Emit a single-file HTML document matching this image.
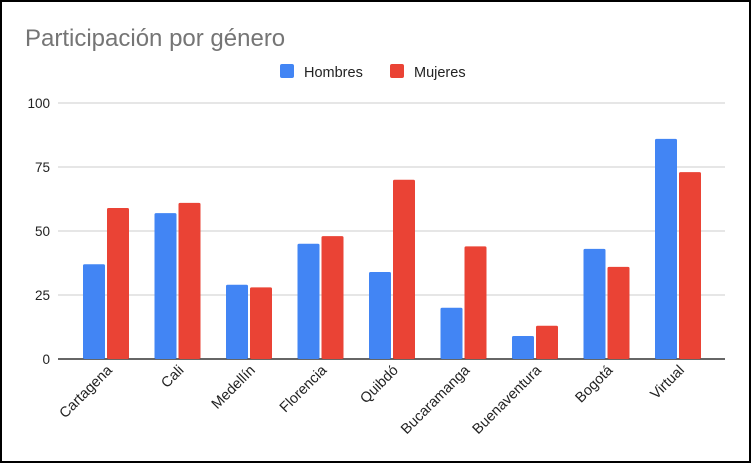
<!DOCTYPE html>
<html><head><meta charset="utf-8"><style>
body{margin:0;background:#fff}
#wrap{position:relative;width:751px;height:463px;box-sizing:border-box;border:2px solid #000;background:#fff;overflow:hidden}
svg{position:absolute;left:-2px;top:-2px}
text{font-family:"Liberation Sans",Arial,sans-serif}
</style></head><body>
<div id="wrap">
<svg id="chart" width="751" height="463">
<text x="25" y="46" font-size="24" fill="#757575">Participación por género</text>
<g>
<rect x="280" y="64" width="14" height="14" rx="2" fill="#4285f4"/>
<text x="304" y="77" font-size="14.5" fill="#222">Hombres</text>
<rect x="390" y="64" width="14" height="14" rx="2" fill="#ea4335"/>
<text x="414" y="77" font-size="14.5" fill="#222">Mujeres</text>
</g>
<g id="grid"></g><g id="bars"></g><g id="xlabels"></g>
</svg></div>
<script>
const categories=["Cartagena","Cali","Medellín","Florencia","Quibdó","Bucaramanga","Buenaventura","Bogotá","Virtual"];
const hombres=[37,57,29,45,34,20,9,43,86];
const mujeres=[59,61,28,48,70,44,13,36,73];
const yTicks=[0,25,50,75,100];
const NS="http://www.w3.org/2000/svg";
const y0=359,yTop=103,xL=58,xR=725;
const y=v=>y0-(v/100)*(y0-yTop);
const cx=i=>106+i*71.5;
function mk(t,a,p){const e=document.createElementNS(NS,t);for(const k in a)e.setAttribute(k,a[k]);p.appendChild(e);return e;}
const g=document.getElementById('grid');
yTicks.forEach(v=>{
 const l=mk('line',{x1:xL,x2:xR,y1:y(v),y2:y(v),stroke:v===0?'#333':'#ccc','stroke-width':v===0?1.5:1},g);
 
 
 const t=mk('text',{x:50,y:y(v)+5,'text-anchor':'end','font-size':13.5,fill:'#222'},g);
 t.textContent=v;
 
 
});
const b=document.getElementById('bars'),xl=document.getElementById('xlabels');
categories.forEach((c,i)=>{
 [[hombres[i],'#4285f4',-23,'hombres'],[mujeres[i],'#ea4335',1,'mujeres']].forEach(([v,col,off,s])=>{
  const r=mk('rect',{x:cx(i)+off,y:y(v),width:22,height:y0-y(v),fill:col,rx:1.5},b);
  
  
 });
 const t=mk('text',{x:0,y:0,'text-anchor':'end','font-size':14.5,fill:'#222',transform:`translate(${cx(i)+7},${y0+12}) rotate(-45)`},xl);
 t.textContent=c;
 
 
});
</script>
</body></html>
